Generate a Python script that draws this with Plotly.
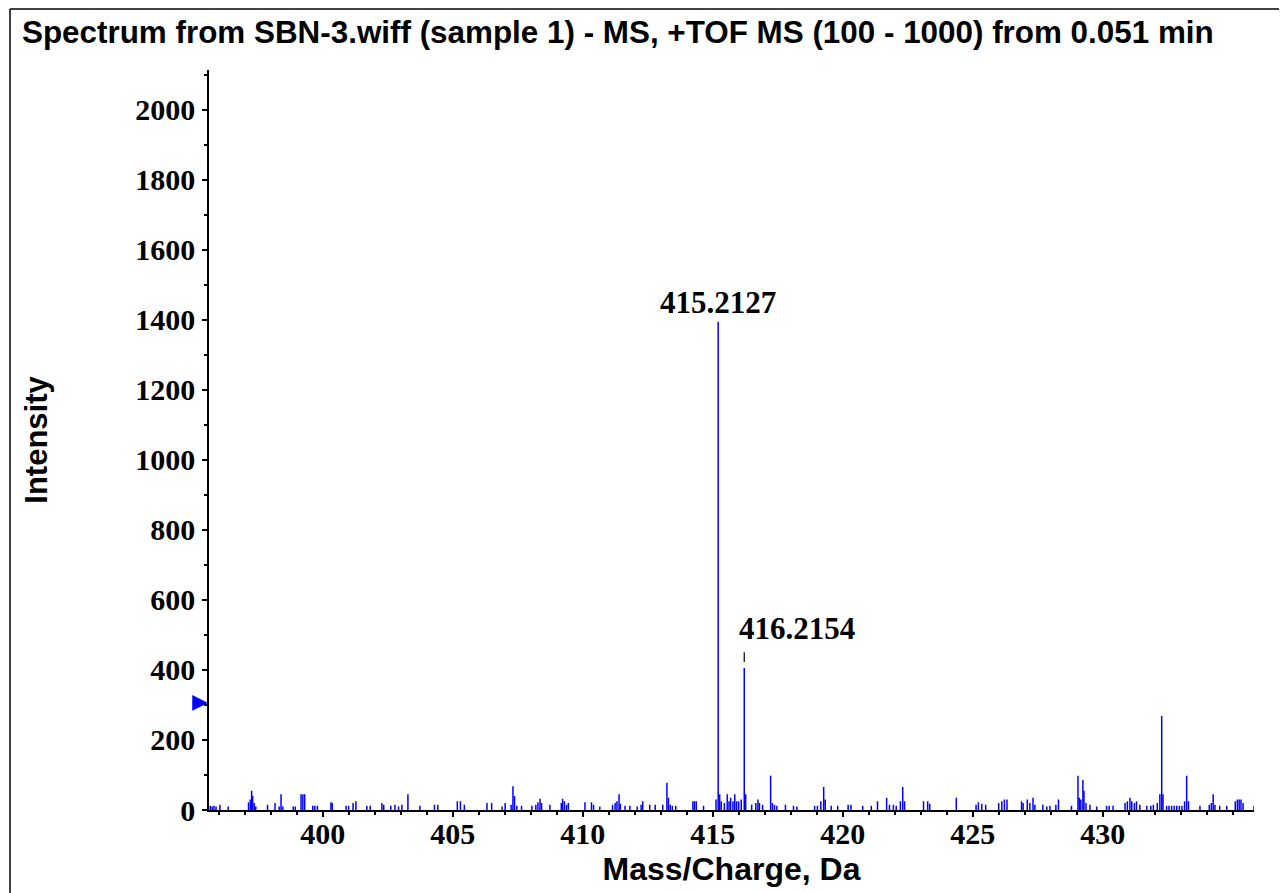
import plotly.graph_objects as go

# ---- data: peak m/z values and intensities ----
mz = [395.68, 395.75, 395.82, 395.90, 396.05, 396.37, 397.15, 397.22, 397.27, 397.31,
      397.37, 397.43, 397.88, 398.17, 398.33, 398.40, 398.47, 398.87, 398.95, 399.17,
      399.24, 399.31, 399.62, 399.70, 399.80, 400.32, 400.37, 400.90, 401.00, 401.17,
      401.28, 401.70, 401.83, 402.28, 402.35, 402.62, 402.78, 402.92, 403.05, 403.28,
      403.74, 404.30, 404.43, 405.18, 405.30, 405.45, 406.32, 406.50, 406.90, 407.02,
      407.25, 407.32, 407.38, 407.47, 407.65, 408.05, 408.20, 408.28, 408.36, 408.42,
      408.74, 409.18, 409.23, 409.30, 409.38, 409.45, 410.09, 410.34, 410.42, 410.66,
      411.15, 411.25, 411.32, 411.40, 411.45, 411.63, 411.82, 412.10, 412.25, 412.31,
      412.58, 412.79, 413.08, 413.24, 413.30, 413.37, 413.45, 413.58, 414.24, 414.30,
      414.37, 414.65, 415.13, 415.2127, 415.27, 415.33, 415.45, 415.56, 415.63, 415.69,
      415.78, 415.85, 415.92, 416.00, 416.10, 416.2154, 416.27, 416.50, 416.66, 416.74,
      416.80, 416.92, 417.23, 417.30, 417.38, 417.47, 417.80, 418.11, 418.24, 418.92,
      419.03, 419.16, 419.27, 419.33, 419.56, 419.81, 420.21, 420.32, 420.77, 421.10,
      421.34, 421.69, 421.80, 421.95, 422.06, 422.22, 422.31, 422.38, 423.11, 423.27,
      423.35, 424.37, 425.13, 425.22, 425.35, 425.50, 426.00, 426.12, 426.22, 426.32,
      426.88, 426.94, 427.10, 427.20, 427.32, 427.39, 427.70, 427.85, 427.97, 428.20,
      428.30, 428.80, 429.05, 429.10, 429.16, 429.24, 429.28, 429.36, 429.51, 429.77,
      430.15, 430.25, 430.40, 430.86, 430.95, 431.05, 431.12, 431.22, 431.30, 431.43,
      431.70, 431.85, 431.95, 432.10, 432.20, 432.27, 432.32, 432.46, 432.55, 432.65,
      432.75, 432.85, 432.95, 433.05, 433.15, 433.23, 433.30, 433.74, 434.10, 434.18,
      434.25, 434.32, 434.50, 434.77, 435.10, 435.18, 435.25, 435.32, 435.40, 435.82]
intensity = [12, 10, 12, 10, 15, 10, 22, 30, 55, 40,
             20, 10, 15, 20, 10, 45, 10, 10, 10, 45,
             45, 45, 12, 12, 12, 22, 20, 12, 12, 20,
             25, 12, 12, 20, 15, 12, 15, 10, 15, 45,
             12, 15, 15, 25, 25, 15, 20, 20, 10, 20,
             15, 68, 40, 12, 12, 12, 15, 22, 32, 20,
             15, 20, 32, 25, 15, 20, 22, 22, 15, 10,
             15, 20, 25, 45, 18, 12, 12, 10, 15, 25,
             15, 15, 15, 78, 35, 15, 12, 12, 25, 25,
             25, 12, 30, 1395, 45, 25, 20, 45, 25, 35,
             25, 45, 25, 25, 30, 406, 45, 15, 20, 30,
             20, 15, 98, 20, 15, 12, 15, 12, 10, 12,
             12, 25, 66, 30, 12, 12, 15, 15, 12, 12,
             25, 35, 15, 15, 12, 25, 66, 25, 25, 25,
             18, 35, 15, 22, 18, 15, 20, 25, 30, 30,
             25, 20, 30, 20, 35, 15, 15, 10, 12, 15,
             30, 12, 98, 35, 30, 86, 55, 20, 15, 10,
             12, 12, 12, 20, 25, 35, 25, 20, 25, 15,
             12, 12, 15, 20, 45, 269, 45, 12, 12, 12,
             12, 12, 12, 12, 25, 98, 25, 12, 15, 20,
             45, 15, 12, 12, 25, 30, 30, 30, 20, 12]

labelled_peaks = [415.2127, 416.2154]
threshold = 306

x_ticks = [400, 405, 410, 415, 420, 425, 430]
y_ticks = [0, 200, 400, 600, 800, 1000, 1200, 1400, 1600, 1800, 2000]
x_range = [395.63, 435.82]
y_range = [0, 2114]

title_text = "Spectrum from SBN-3.wiff (sample 1) - MS, +TOF MS (100 - 1000) from 0.051 min"

# ---- stick spectrum ----
xs, ys = [], []
for m, h in zip(mz, intensity):
    xs += [m, m, None]
    ys += [0, h, None]

fig = go.Figure()
fig.add_trace(go.Scatter(x=xs, y=ys, mode="lines",
                         line=dict(color="#0000ff", width=1.5),
                         hoverinfo="skip", showlegend=False))

serif = "Liberation Serif"
sans = "Liberation Sans"

# figure is drawn inside the page's default 8px body margin
W, H = 1279, 885
pl, pr, pt, pb = 201, 33, 62, 83
pw, ph = W - pl - pr, H - pt - pb

# peak labels
h0 = intensity[mz.index(labelled_peaks[0])]
fig.add_annotation(x=labelled_peaks[0], y=h0, text=f"{labelled_peaks[0]:.4f}",
                   showarrow=False, yanchor="bottom", xanchor="center", yshift=0,
                   font=dict(family=serif, size=31, color="black", weight="bold"))
h1 = intensity[mz.index(labelled_peaks[1])]
fig.add_annotation(x=labelled_peaks[1], y=h1, text=f"{labelled_peaks[1]:.4f}",
                   showarrow=False, yanchor="bottom", xanchor="left", xshift=-7, yshift=20,
                   font=dict(family=serif, size=31, color="black", weight="bold"))
fig.add_shape(type="line", x0=labelled_peaks[1], x1=labelled_peaks[1],
              y0=h1 + 17, y1=h1 + 45, line=dict(color="black", width=1.2))

# threshold arrow on y axis
fig.add_annotation(xref="paper", x=0, y=threshold, ax=-15, ay=0, text="",
                   showarrow=True, arrowhead=2, arrowsize=0.9, arrowwidth=3.5,
                   arrowcolor="#0000ff", standoff=1)

# frame lines (top edge and left edge)
fx = (2 - pl) / pw
fy_top = (H - pb - 1) / ph
fig.add_shape(type="line", xref="paper", yref="paper", x0=fx, x1=1.05,
              y0=fy_top, y1=fy_top, line=dict(color="black", width=1.5))
fig.add_shape(type="line", xref="paper", yref="paper", x0=fx, x1=fx,
              y0=fy_top, y1=-0.15, line=dict(color="black", width=1.5))

fig.update_layout(
    width=W, height=H,
    margin=dict(l=pl, r=pr, t=pt, b=pb),
    paper_bgcolor="white", plot_bgcolor="white",
    title=dict(text=f"<b>{title_text}</b>", x=14 / W, xanchor="left",
               y=1 - 24 / H, yanchor="middle",
               font=dict(family=sans, size=31.4, color="black")),
    xaxis=dict(range=x_range, tickvals=x_ticks, ticktext=[str(v) for v in x_ticks],
               showgrid=False, zeroline=False, showline=True, linecolor="black", linewidth=1.5,
               ticks="outside", ticklen=5, tickwidth=1.5, tickcolor="black",
               ticklabelstandoff=-9,
               minor=dict(dtick=1, tick0=400, ticks="outside", ticklen=3, tickcolor="black", tickwidth=1.5),
               tickfont=dict(family=serif, size=30, color="black", weight="bold"),
               title=dict(text="<b>Mass/Charge, Da</b>", standoff=9,
                          font=dict(family=sans, size=32, color="black"))),
    yaxis=dict(range=y_range, tickvals=y_ticks, ticktext=[str(v) for v in y_ticks],
               showgrid=False, zeroline=False, showline=True, linecolor="black", linewidth=1.5,
               ticks="outside", ticklen=5, tickwidth=1.5, tickcolor="black",
               ticklabelstandoff=1,
               minor=dict(dtick=100, tick0=0, ticks="outside", ticklen=3, tickcolor="black", tickwidth=1.5),
               tickfont=dict(family=serif, size=30, color="black", weight="bold"),
               title=dict(text="<b>Intensity</b>", standoff=78,
                          font=dict(family=sans, size=31, color="black"))),
)

fig.write_html("out.html")
